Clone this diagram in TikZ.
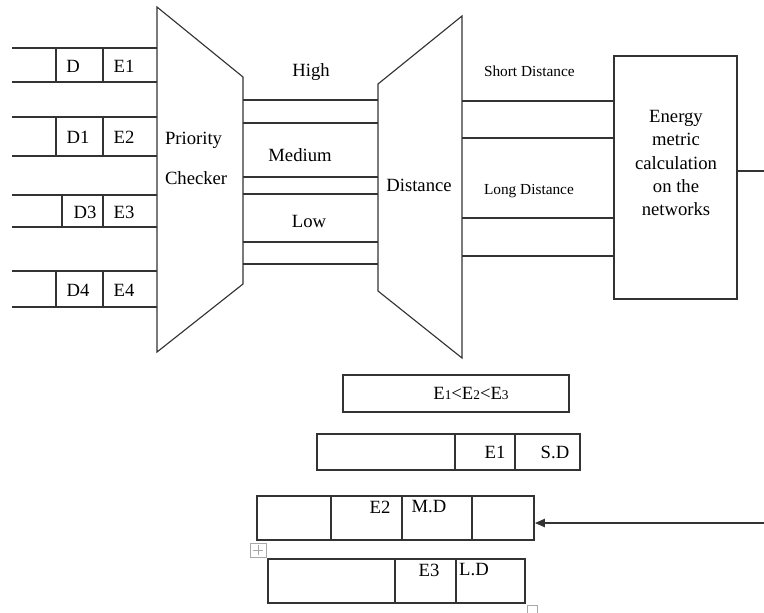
\documentclass[tikz,border=0pt]{standalone}
\usepackage{fontspec}
\IfFontExistsTF{LiberationSerif-Regular.ttf}
  {\setmainfont{LiberationSerif}[Extension=.ttf,UprightFont=*-Regular,
     BoldFont=*-Bold,ItalicFont=*-Italic,BoldItalicFont=*-BoldItalic]}
  {\setmainfont{Liberation Serif}}
\usetikzlibrary{arrows.meta}
\definecolor{schedLine}{HTML}{333333}
\definecolor{schedGray}{HTML}{A8A8A8}
\tikzset{
  sched diagram/.style={
    draw=schedLine, line width=0.85pt,
    >={Triangle[length=0.26cm,width=0.22cm]},
    every node/.style={font=\rmfamily\fontsize{14}{16}\selectfont,
      text=black, inner sep=0pt, outer sep=0pt}
  },
  sched small/.style={font=\rmfamily\fontsize{11.5}{13}\selectfont},
  sched funnel/.style={draw=schedLine, fill=white},
  sched mark/.style={draw=schedGray, line width=0.5pt, fill=white}
}
% name, top, bottom, divider, D-label x, D-label, E-label
\newcommand{\SchedQueue}[7]{%
  \draw (12,#2) -- (157,#2) (12,#3) -- (157,#3);
  \draw (#4,#2) -- (#4,#3) (103,#2) -- (103,#3);
  \node (#1d) at (#5,{(#2+#3)/2+1}) {#6};
  \node (#1e) at (124,{(#2+#3)/2+1}) {#7};
}
\newcommand{\SmallDigit}[1]{{\fontsize{10}{12}\selectfont #1}}

\begin{document}
\begin{tikzpicture}[sched diagram,x=0.75pt,y=-0.75pt]
    \useasboundingbox (0,0) rectangle (764,612);
    % input queues
    \SchedQueue{qa}{48}{82}{56}{73}{D}{E1}
    \SchedQueue{qb}{117}{156}{56}{78}{D1}{E2}
    \SchedQueue{qc}{195}{227}{62}{85}{D3}{E3}
    \SchedQueue{qd}{271}{307}{56}{78}{D4}{E4}
    % priority checker
    \draw[sched funnel] (157,7) -- (243,77) -- (243,284) -- (157,352) -- cycle;
    \node[anchor=west,align=left,font=\rmfamily\fontsize{14}{30}\selectfont]
      (prio) at (165,158) {Priority\\Checker};
    % priority lanes
    \foreach \ya/\yb in {100/123,177/194,242/264}{
      \draw (243,\ya) -- (378,\ya) (243,\yb) -- (378,\yb);
    }
    \node (high) at (311,72) {High};
    \node (medium) at (300,155) {Medium};
    \node (low) at (309,221) {Low};
    % distance checker
    \draw[sched funnel] (378,84) -- (462,16) -- (462,358) -- (378,291) -- cycle;
    \node (dist) at (419,185) {Distance};
    % distance lanes
    \foreach \ya/\yb in {101/138,218/256}{
      \draw (462,\ya) -- (614,\ya) (462,\yb) -- (614,\yb);
    }
    \node[sched small,anchor=west] (short) at (484,71) {Short Distance};
    \node[sched small,anchor=west] (long) at (484,191) {Long Distance};
    % energy metric
    \draw (614,56) rectangle (737,299);
    \node[align=center,font=\rmfamily\fontsize{14}{17.3}\selectfont]
      (energy) at (676,163) {Energy\\metric\\calculation\\on the\\networks};
    \draw (737,171) -- (764,171);
    % ordering
    \draw (343,375) rectangle (569,412);
    \node (order) at (471,393) {E\SmallDigit{1}<E\SmallDigit{2}<E\SmallDigit{3}};
    \draw (317,434) rectangle (580,470);
    \draw (455,434) -- (455,470) (515,434) -- (515,470);
    \node (sdE) at (495,452) {E1};
    \node (sdL) at (555,452) {S.D};
    \draw (257,496) rectangle (534,540);
    \draw (331,496) -- (331,540) (402,496) -- (402,540) (472,496) -- (472,540);
    \node (mdE) at (380,507) {E2};
    \node (mdL) at (429,507) {M.D};
    \draw (268,559) rectangle (525,603);
    \draw (395,559) -- (395,603) (456,559) -- (456,603);
    \node (ldE) at (429,570) {E3};
    \node (ldL) at (474,570) {L.D};
    % feedback
    \coordinate (rowMD) at (535,523);
    \coordinate (feedIn) at (764,523);
    \draw[->] (feedIn) -- (rowMD);
    % editor marks
    \draw[sched mark] (250,543) rectangle (266,557);
    \draw[schedGray,line width=0.5pt] (253,550) -- (263,550) (258,545) -- (258,555);
    \draw[sched mark] (527,605) rectangle (537,615);
  \end{tikzpicture}
\end{document}
